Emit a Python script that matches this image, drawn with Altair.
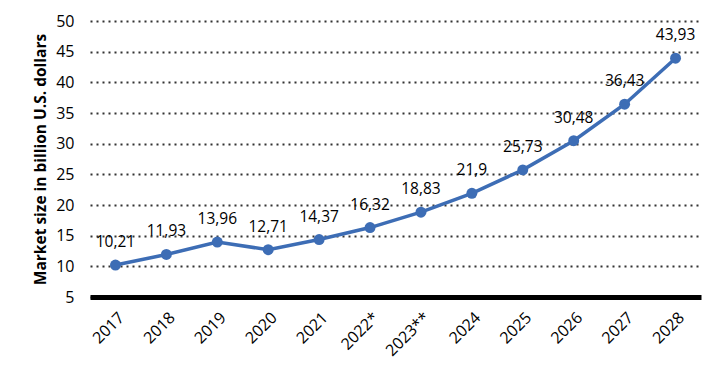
import altair as alt
import pandas as pd

years = ["2017", "2018", "2019", "2020", "2021", "2022*", "2023**", "2024", "2025", "2026", "2027", "2028"]
values = [10.21, 11.93, 13.96, 12.71, 14.37, 16.32, 18.83, 21.9, 25.73, 30.48, 36.43, 43.93]
labels = ["10,21", "11,93", "13,96", "12,71", "14,37", "16,32", "18,83", "21,9", "25,73", "30,48", "36,43", "43,93"]

df = pd.DataFrame({"year": years, "value": values, "label": labels})

FONT = "Open Sans"
BLUE = "#3D6DB5"

x = alt.X("year:N", sort=years, title=None,
          scale=alt.Scale(type="point", padding=0.5),
          axis=alt.Axis(labelAngle=-45, labelFontSize=16, labelColor="#000000",
                        labelFont=FONT, domainColor="#000000", domainWidth=5,
                        ticks=False, grid=False, labelPadding=12))
y = alt.Y("value:Q", title="Market size in billion U.S. dollars",
          scale=alt.Scale(domain=[5, 50], nice=False, zero=False),
          axis=alt.Axis(values=list(range(5, 51, 5)), labelFontSize=16, labelColor="#000000",
                        labelFont=FONT, domain=False, ticks=False, labelPadding=16,
                        grid=True, gridDash=[2, 4], gridColor="#333333", gridWidth=2,
                        titleFont=FONT, titleFontSize=15.5, titleFontWeight="bold",
                        titleColor="#000000", titlePadding=7))

base = alt.Chart(df).encode(x=x, y=y)

line = base.mark_line(color=BLUE, strokeWidth=3.5)
pts = base.mark_point(filled=True, color=BLUE, size=120, opacity=1)
txt = base.mark_text(dy=-23, fontSize=15.5, font=FONT, color="#000000").encode(text="label:N")

chart = (line + pts + txt).properties(
    width=611, height=276,
    background="#ffffff",
    padding={"top": 5, "left": 25, "right": 5, "bottom": 5},
).configure_view(stroke=None)

chart.save("out.html", embed_options={"renderer": "svg", "actions": False})
